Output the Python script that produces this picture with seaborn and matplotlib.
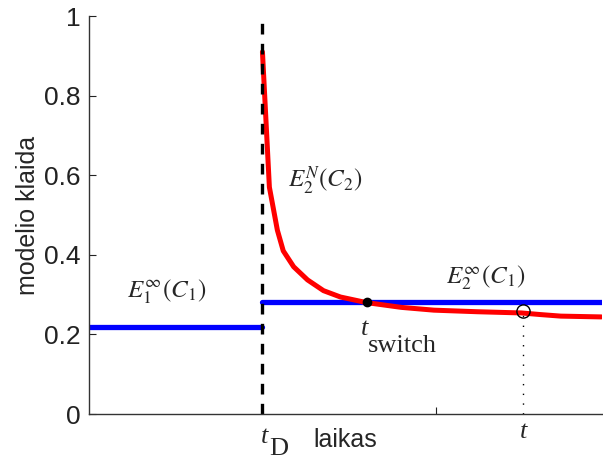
import matplotlib
matplotlib.use("Agg")
import matplotlib.pyplot as plt
import seaborn as sns
import pandas as pd

# values
t_detect = 50          # t_D: drift detected
t_switch = 80          # crossing point
t_now = 125            # current time t
x_end = 148

old_err = 0.219        # E1^inf(C1)
new_err_inf = 0.281    # E2^inf(C1)

curve_t = [50, 52, 54.3, 56, 59, 63, 67.6, 72.5, 80, 90, 99.4, 112, 124.6, 130, 136, 147.7]
curve_err = [0.91, 0.57, 0.462, 0.41, 0.37, 0.337, 0.31, 0.294, 0.28, 0.268, 0.261, 0.257, 0.254, 0.25, 0.246, 0.244]
circle_err = 0.258

sns.set_style("ticks")
plt.rcParams["font.family"] = ["Liberation Sans", "DejaVu Sans"]
plt.rcParams["mathtext.fontset"] = "stix"

fig = plt.figure(figsize=(6.03, 4.59), dpi=100)
ax = fig.add_axes([0.1476, 0.098, 0.8514, 0.867])

curve = pd.DataFrame({"t": curve_t, "err": curve_err})
old = pd.DataFrame({"t": [0, t_detect], "err": [old_err, old_err]})
new = pd.DataFrame({"t": [t_detect, x_end], "err": [new_err_inf, new_err_inf]})

sns.lineplot(data=old, x="t", y="err", color="#0000ff", lw=3.8, ax=ax)
sns.lineplot(data=new, x="t", y="err", color="#0000ff", lw=3.8, ax=ax)
sns.lineplot(data=curve, x="t", y="err", color="#ff0000", lw=3.6, ax=ax)

ax.plot([t_detect, t_detect], [0, 1], color="black", lw=2.4, dashes=(3.2, 2.8))
ax.plot([t_now, t_now], [0, circle_err], color="black", lw=1.0, ls=(0, (1, 6)))
ax.plot([t_switch], [new_err_inf], "o", color="black", ms=6)
ax.plot([t_now], [circle_err], "o", mfc="none", mec="black", mew=1.0, ms=9.5)

ax.set_xlim(0, x_end)
ax.set_ylim(0, 1)
ax.set_yticks([0, 0.2, 0.4, 0.6, 0.8, 1])
ax.set_yticklabels(["0", "0.2", "0.4", "0.6", "0.8", "1"])
ax.set_xticks([t_detect, 100])
ax.set_xticklabels(["", ""])
ax.tick_params(direction="in", length=5, width=0.8, labelsize=19, colors="#222222")
ax.tick_params(axis="y", pad=6)
for s in ["top", "right"]:
    ax.spines[s].set_visible(False)
for s in ["left", "bottom"]:
    ax.spines[s].set_linewidth(1.0)
    ax.spines[s].set_color("#333333")

ax.set_ylabel("modelio klaida", fontsize=18, labelpad=3)
ax.set_xlabel("")
ax.text(74, -0.083, "laikas", fontsize=18, ha="center", va="baseline")

# annotations
ax.text(11, 0.294, r"$E_1^{\infty}(C_1)$", fontsize=18, va="baseline")
ax.text(57.5, 0.568, r"$E_2^{N}(C_2)$", fontsize=18, va="baseline")
ax.text(103, 0.329, r"$E_2^{\infty}(C_1)$", fontsize=18, va="baseline")

ax.text(78.3, 0.198, "t", fontsize=19, family="Liberation Serif", style="italic", va="baseline")
ax.text(80.5, 0.156, "switch", fontsize=19, family="Liberation Serif", va="baseline")
ax.text(49.4, -0.072, "t", fontsize=19, family="Liberation Serif", style="italic",
        va="baseline", clip_on=False)
ax.text(52, -0.104, "D", fontsize=19, family="Liberation Serif", va="baseline", clip_on=False)
ax.text(t_now - 0.8, -0.06, "t", fontsize=19, family="Liberation Serif", style="italic",
        va="baseline", clip_on=False)

fig.savefig("out.png", dpi=100)
